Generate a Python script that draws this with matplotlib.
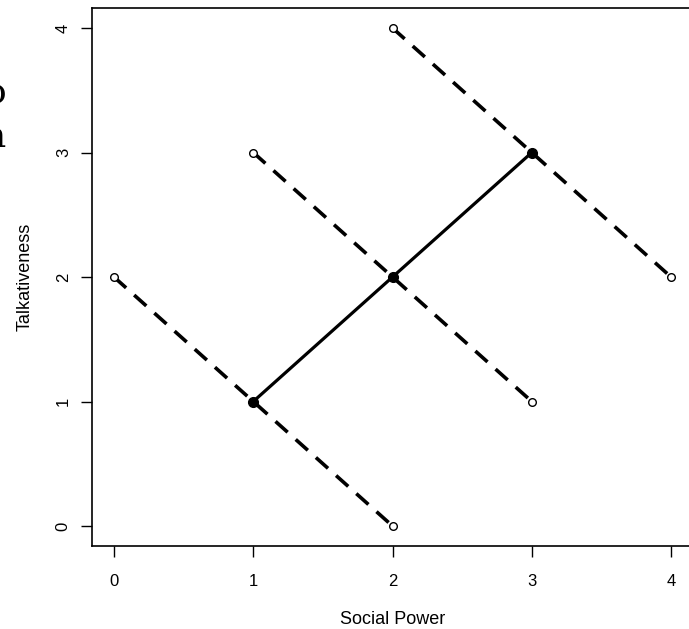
import matplotlib
matplotlib.use("Agg")
from matplotlib import pyplot as plt

plt.rcParams['font.family'] = ['Liberation Sans', 'DejaVu Sans']

# dashed lines (open endpoints)
dash_x = [[0, 2], [1, 3], [2, 4]]
dash_y = [[2, 0], [3, 1], [4, 2]]
# solid line (filled points)
solid_x = [1, 2, 3]
solid_y = [1, 2, 3]
ticks = [0, 1, 2, 3, 4]

fig = plt.figure(figsize=(6.89, 6.29), dpi=100)
ax = fig.add_axes([0.1331, 0.1321, 0.8732, 0.855])

for xs, ys in zip(dash_x, dash_y):
    ax.plot(xs, ys, color='black', lw=2.6, ls=(0, (4.5, 3)), zorder=2)
    ax.plot(xs, ys, 'o', mfc='white', mec='black', ms=5.5, mew=1, zorder=3)

ax.plot(solid_x, solid_y, color='black', lw=2.3, zorder=4)
ax.plot(solid_x, solid_y, 'o', color='black', ms=7, zorder=5)

ax.set_xlim(-0.16, 4.16)
ax.set_ylim(-0.16, 4.16)
ax.set_xticks(ticks)
ax.set_yticks(ticks)
ax.tick_params(length=8, width=1, labelsize=12)
ax.tick_params(axis='x', pad=12)
ax.tick_params(axis='y', pad=7)
for lab in ax.get_yticklabels():
    lab.set_rotation(90)
    lab.set_va('center')
for s in ax.spines.values():
    s.set_linewidth(1.2)

ax.set_xlabel("Social Power", fontsize=13, labelpad=16)
ax.set_ylabel("Talkativeness", fontsize=13, labelpad=16)

# cut-off text from the page to the left
fig.text(6 / 689, 1 - 103 / 629, "o", family='DejaVu Serif', fontsize=26, ha='right', va='baseline')
fig.text(6 / 689, 1 - 147 / 629, "n", family='DejaVu Serif', fontsize=26, ha='right', va='baseline')

plt.savefig("out.png", dpi=100)
